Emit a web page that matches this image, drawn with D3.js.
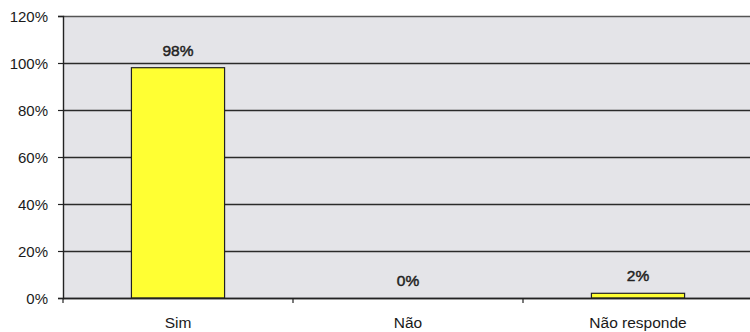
<!DOCTYPE html>
<html>
<head>
<meta charset="utf-8">
<script src="https://cdn.jsdelivr.net/npm/d3@7/dist/d3.min.js"></script>
<style>
  html, body { margin: 0; padding: 0; background: #fff; }
  svg { display: block; }
  text { font-family: "Liberation Sans", Arial, sans-serif; fill: #1a1a1a; }
</style>
</head>
<body>
<svg id="chart" width="750" height="332"></svg>
<script>
// Survey answers and their shares (percent)
const categories = ["Sim", "Não", "Não responde"];
const values = [98, 0, 2];
const yTicks = [0, 20, 40, 60, 80, 100, 120];

const svg = d3.select("#chart");
const margin = { left: 63, top: 16, bottom: 34 };
const plotW = 690; // three categories of equal width; the last runs past the frame
const height = 332;
const innerH = height - margin.top - margin.bottom;

const x = d3.scaleBand().domain(categories).range([margin.left, margin.left + plotW])
  .paddingInner(0.595).paddingOuter(0.2975);
const xCat = d3.scaleBand().domain(categories).range([margin.left, margin.left + plotW]);
const y = d3.scaleLinear().domain([0, 120]).range([margin.top + innerH, margin.top]);

// plot background
svg.append("rect")
  .attr("x", margin.left).attr("y", y(120))
  .attr("width", plotW).attr("height", y(0) - y(120))
  .attr("fill", "#e4e4e8");

// horizontal gridlines
svg.append("g").selectAll("line").data(yTicks).join("line")
  .attr("x1", margin.left).attr("x2", margin.left + plotW)
  .attr("y1", d => Math.round(y(d)) + 0.5).attr("y2", d => Math.round(y(d)) + 0.5)
  .attr("stroke", d => d === 120 ? "#555" : "#2a2a2a").attr("stroke-width", 1.4);

// bars
svg.append("g").selectAll("rect").data(values).join("rect")
  .attr("x", (d, i) => x(categories[i]))
  .attr("y", d => y(d))
  .attr("width", x.bandwidth())
  .attr("height", d => y(0) - y(d))
  .attr("fill", "#ffff33")
  .attr("stroke", "#222").attr("stroke-width", 1.2);

// value labels
svg.append("g").selectAll("text").data(values).join("text")
  .attr("x", (d, i) => x(categories[i]) + x.bandwidth() / 2)
  .attr("y", d => y(d) - 12)
  .attr("text-anchor", "middle")
  .attr("font-size", 15.5)
  .style("fill", "#222").style("stroke", "#222").style("stroke-width", 0.45)
  .text(d => d + "%");

// y axis
const yAxis = d3.axisLeft(y).tickValues(yTicks).tickSize(5).tickPadding(10)
  .tickFormat(d => d + "%");
const gy = svg.append("g").attr("transform", `translate(${margin.left},0)`).call(yAxis);
gy.select(".domain").attr("stroke", "#222").attr("stroke-width", 1.4);
gy.selectAll(".tick line").attr("stroke", "#222").attr("stroke-width", 1.2);
gy.selectAll(".tick text").attr("font-size", 15).attr("font-family", null)
  .attr("dy", "0.36em").style("fill", "#1a1a1a");

// x axis: category separators and labels
const gx = svg.append("g").attr("transform", `translate(0,${y(0)})`);
gx.append("line").attr("x1", margin.left).attr("x2", margin.left + plotW)
  .attr("y1", 0.5).attr("y2", 0.5).attr("stroke", "#222").attr("stroke-width", 1.4);
gx.selectAll("line.sep").data(categories).join("line").attr("class", "sep")
  .attr("x1", d => xCat(d)).attr("x2", d => xCat(d))
  .attr("y1", 0).attr("y2", 5).attr("stroke", "#222").attr("stroke-width", 1.2);
gx.selectAll("text").data(categories).join("text")
  .attr("x", d => xCat(d) + xCat.bandwidth() / 2)
  .attr("y", 30)
  .attr("text-anchor", "middle").attr("font-size", 15.5)
  .text(d => d);
</script>
</body>
</html>
